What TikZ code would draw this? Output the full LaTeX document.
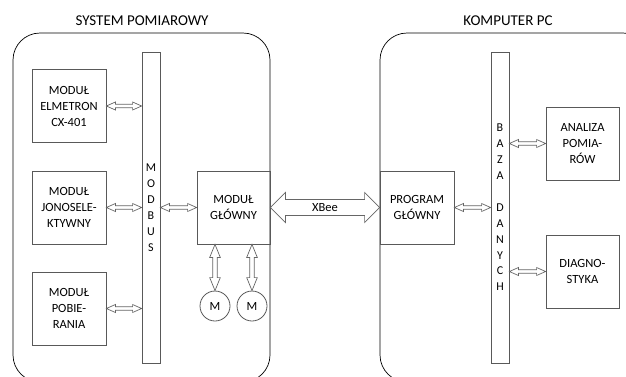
\documentclass[tikz,border=0pt]{standalone}
\usepackage{fontspec}
\setmainfont{Carlito}
\usetikzlibrary{calc}
\tikzset{
  x=1pt,y=-1pt,
  cont/.style={draw=black,line width=0.7pt,rounded corners=27pt},
  title/.style={font=\fontsize{15}{18}\selectfont,inner sep=0pt},
  modbox/.style={draw=black!65,line width=0.8pt,minimum width=74pt,minimum height=73pt,inner sep=1pt,align=center,font=\fontsize{12.5}{16}\selectfont},
  bar/.style={draw=black!65,line width=0.8pt,minimum width=18pt,minimum height=311pt,inner sep=0pt,align=center,font=\fontsize{12}{15.9}\selectfont},
  motor/.style={circle,draw=black!65,line width=0.8pt,minimum size=30pt,inner sep=0pt,font=\fontsize{12.5}{15}\selectfont},
  arr/.style={draw=black!60,fill=white,line width=0.7pt,line join=miter},
  lbl/.style={font=\fontsize{12.5}{15}\selectfont,inner sep=0pt}
}
% horizontal hollow double arrow from #1 (left) to #2 (right)
\newcommand\harrow[5]{% #1 #2 points, #3 head half, #4 shaft half, #5 head length
  \path[arr] let \p1=(#1), \p2=(#2) in
    (\x1,\y1) -- (\x1+#5,\y1+#3) -- (\x1+#5,\y1+#4) -- (\x2-#5,\y1+#4) -- (\x2-#5,\y1+#3)
    -- (\x2,\y1) -- (\x2-#5,\y1-#3) -- (\x2-#5,\y1-#4) -- (\x1+#5,\y1-#4) -- (\x1+#5,\y1-#3) -- cycle;}
\newcommand\varrow[5]{% vertical, #1 top, #2 bottom
  \path[arr] let \p1=(#1), \p2=(#2) in
    (\x1,\y1) -- (\x1+#3,\y1-#5) -- (\x1+#4,\y1-#5) -- (\x1+#4,\y2+#5) -- (\x1+#3,\y2+#5)
    -- (\x1,\y2) -- (\x1-#3,\y2+#5) -- (\x1-#4,\y2+#5) -- (\x1-#4,\y1-#5) -- (\x1-#3,\y1-#5) -- cycle;}
\begin{document}
\begin{tikzpicture}
\useasboundingbox (0,0) rectangle (626,376);
\clip (0,0) rectangle (626,376);
% containers
\draw[cont] (13,33) rectangle (270,382);
\draw[cont] (380,33) rectangle (650,382);
\node[title] (t1) at (142,21) {SYSTEM POMIAROWY};
\node[title] (t2) at (508,21) {KOMPUTER PC};
% left side
\node[modbox] (elm) at (69,106) {MODUŁ\\ELMETRON\\CX-401};
\node[modbox] (jon) at (69,207.5) {MODUŁ\\JONOSELE-\\KTYWNY};
\node[modbox] (pob) at (69,308.5) {MODUŁ\\POBIE-\\RANIA};
\node[bar] (modbus) at (151,207.5) {M\\O\\D\\B\\U\\S};
\node[modbox,minimum width=73pt] (glowny) at (233.5,207.5) {MODUŁ\\GŁÓWNY};
\node[motor] (m1) at (215,306) {M};
\node[motor] (m2) at (252,306) {M};
% right side
\node[modbox] (prog) at (417,207.5) {PROGRAM\\GŁÓWNY};
\node[bar] (baza) at (500,207.5) {B\\A\\Z\\A\\\mbox{}\\D\\A\\N\\Y\\C\\H};
\node[modbox,minimum width=73pt] (anal) at (582.5,143.5) {ANALIZA\\POMIA-\\RÓW};
\node[modbox,minimum width=73pt] (diag) at (582.5,271.5) {DIAGNO-\\STYKA};
% connectors
\harrow{elm.east}{elm.east -| modbus.west}{4pt}{1.8pt}{9pt}
\harrow{jon.east}{jon.east -| modbus.west}{4pt}{1.8pt}{9pt}
\harrow{pob.east}{pob.east -| modbus.west}{4pt}{1.8pt}{9pt}
\harrow{modbus.east |- glowny.west}{glowny.west}{4pt}{1.8pt}{9pt}
\harrow{prog.east}{prog.east -| baza.west}{4pt}{1.8pt}{9pt}
\harrow{baza.east |- anal.west}{anal.west}{4pt}{1.8pt}{9pt}
\harrow{baza.east |- diag.west}{diag.west}{4pt}{1.8pt}{9pt}
\varrow{m1.north |- glowny.south}{m1.north}{5.3pt}{2.2pt}{13pt}
\varrow{m2.north |- glowny.south}{m2.north}{5.3pt}{2.2pt}{13pt}
\harrow{glowny.east}{prog.west}{15pt}{8pt}{15pt}
\node[lbl] (xbee) at ($(glowny.east)!0.5!(prog.west)$) {XBee};
\end{tikzpicture}
\end{document}
